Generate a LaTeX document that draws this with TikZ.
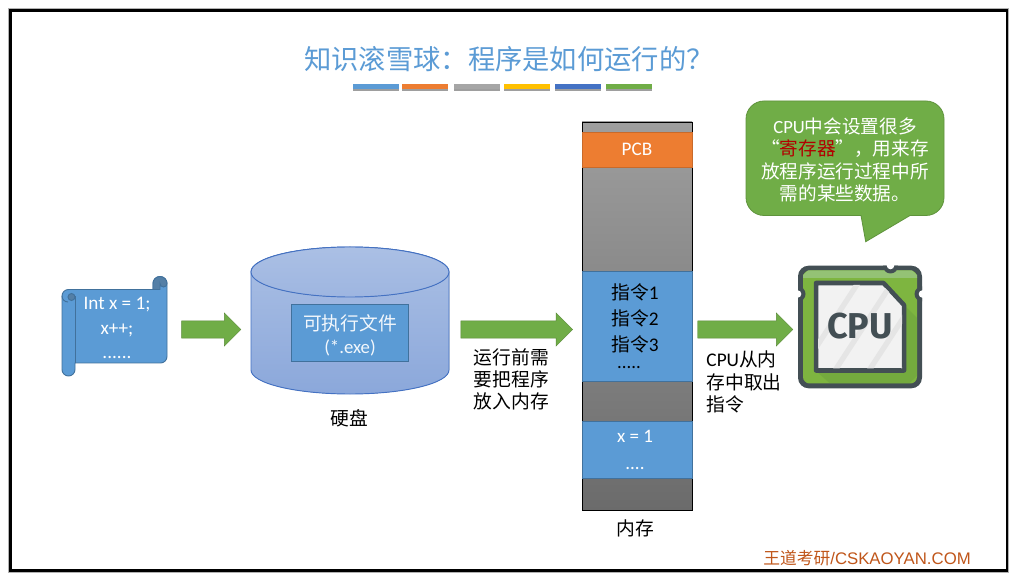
\documentclass[tikz,border=0pt]{standalone}
\usepackage{fontspec}
\setmainfont{Carlito}
\newfontfamily\cjk{Noto Sans CJK SC}
\newfontfamily\arial{Liberation Sans}
\newfontfamily\chipfont{Fira Sans}
\usetikzlibrary{shapes.arrows}
\definecolor{myblue}{HTML}{5B9BD5}
\definecolor{myedge}{HTML}{41719C}
\definecolor{myorange}{HTML}{ED7D31}
\definecolor{mygold}{HTML}{FFC000}
\definecolor{myindigo}{HTML}{4472C4}
\definecolor{mygreen}{HTML}{70AD47}
\definecolor{mychip}{HTML}{434F54}
\definecolor{mywater}{HTML}{C0561A}
\newcommand{\lat}[1]{{\fontsize{14.5}{16.6}\selectfont\rmfamily #1}}
\tikzset{
  body/.style={font=\fontsize{14.1}{16.6}\selectfont\cjk,inner sep=0pt},
  onblue/.style={body,text=white,align=center},
  cell/.style={fill=myblue,draw=myedge,line width=0.7pt},
  titlebar/.style={minimum width=34.8pt,minimum height=4.2pt,inner sep=0pt},
  blockarrow/.style={single arrow,fill=mygreen,draw=mygreen!80!black,line width=0.3pt,
    inner sep=0pt,single arrow head indent=0pt,single arrow head extend=6pt},
}

\begin{document}
\begin{tikzpicture}[x=0.7512pt,y=-0.7512pt]
  \def\Ml{582}
  \def\Mr{692}
  \def\Mc{637}
  \def\Sw{\rule{0pt}{12.6pt}}
  \useasboundingbox (0,0) rectangle (1016,578);
  \fill[white] (0,0) rectangle (1016,578);
  \draw[black!30,line width=2.6pt] (10,10) rectangle (1007.5,571);
  \draw[black,line width=1.6pt] (10.5,10.5) rectangle (1007,570.5);

%title:
  \node[font=\fontsize{20.5}{24}\selectfont\cjk,text=myblue,inner sep=0pt] (title) at (509,59) {知识滚雪球：程序是如何运行的？};
  \foreach \name/\xc/\col in {a/376/myblue,b/425/myorange,c/477/black!35,d/527/mygold,e/578/myindigo,f/629/mygreen}{
    \fill[black!38] (\xc-23,85.5) rectangle (\xc+23,91.5);
    \node[titlebar,fill=\col] (bar\name) at (\xc,86.6) {};
  }

%scroll:
  \fill[myblue,draw=myedge,line width=0.7pt] (62,296) arc (180:270:6.5) -- (153,289.5) -- (153,283.5) arc (180:360:7) -- (167,356.5) arc (0:90:6.5) -- (75,363) -- (75,369.5) arc (0:180:6.5) -- cycle;
  \fill[myedge!90,draw=myedge,line width=0.7pt] (153,289.5) -- (153,283.5) arc (180:360:7) arc (0:180:3.5) -- (160,289.5) -- cycle;
  \fill[myedge!90,draw=myedge,line width=0.7pt] (71.5,297) circle (3.5);
  \draw[myedge,line width=0.7pt] (62,296) arc (180:90:6);
  \draw[myedge,line width=0.7pt] (75,296) -- (75,363);
  \node[onblue,font=\fontsize{14.4}{18.2}\selectfont] (source) at (117,328) {Int x = 1;\\x++;\\......};

  \node[blockarrow,minimum height=44.5pt] (toDisk) at (207,329.5) {\Sw};

%disk:
  \fill[top color=myindigo!45,bottom color=myindigo!62,shading=axis,draw=myindigo,line width=0.7pt] (251,272) arc (180:360:99 and 25) -- (449,370) arc (0:180:99 and 24) -- cycle;
  \fill[top color=myindigo!45,bottom color=myindigo!52,draw=myindigo,line width=0.7pt] (251,272) arc (180:540:99 and 25);
  \node[cell,minimum width=88pt,minimum height=42.2pt,inner sep=0pt] (exe) at (350,333) {};
  \node[onblue,text=white!92!myblue,font=\fontsize{14.1}{17.2}\selectfont] (exeText) at (350,335) {{\cjk 可执行文件}\\(*.exe)};
  \node[body] (disk) at (349,418) {硬盘};

  \node[blockarrow,minimum height=84pt] (toMem) at (512.5,329.5) {\Sw};
  \node[body,align=left] (load) at (511.5,379) {运行前需\\要把程序\\放入内存};

%memory:
  \fill[top color=black!38,bottom color=black!58,shading=axis,draw=black,line width=0.7pt] (\Ml,122) rectangle (\Mr,510);
  \node[cell,draw=myorange!85!black,fill=myorange,minimum width=82.6pt,minimum height=26.3pt,inner sep=0pt,text=white,font=\fontsize{14.4}{16}\selectfont] (pcb) at (\Mc,149.5) {PCB};
  \node[cell,minimum width=82.6pt,minimum height=82.6pt,inner sep=0pt] (code) at (\Mc,326) {};
  \node[body] (op1) at (635,292) {指令\lat{1}};
  \node[body] (op2) at (635,318.5) {指令\lat{2}};
  \node[body] (op3) at (635,344.5) {指令\lat{3}};
  \node[inner sep=0pt,text height=2pt,text depth=0pt,font=\fontsize{14.1}{16}\selectfont] (opDots) at (629,367) {.....};
  \node[cell,minimum width=82.6pt,minimum height=42.8pt,inner sep=0pt] (data) at (\Mc,449.5) {};
  \node[onblue,font=\fontsize{14.3}{20.5}\selectfont] (dataText) at (635,450) {x = 1\\....};
  \node[body] (mem) at (635,528) {内存};

  \node[blockarrow,minimum height=71.5pt] (toCpu) at (741,329.5) {\Sw};
  \node[body,align=left] (fetch) at (744,382) {\lat{CPU}从内\\存中取出\\指令};

%speech bubble:
  \fill[mygreen,draw=mygreen!85!black,line width=0.6pt] (764,101) -- (926,101) arc (270:360:18) -- (944,197.5) arc (0:90:18) -- (910,215.5) -- (865.7,241.7) -- (861,215.5) -- (764,215.5) arc (90:180:18) -- (746,119) arc (180:270:18) -- cycle;
  \node[onblue,font=\fontsize{14}{16.7}\selectfont\cjk] (note) at (845,160) {{\rmfamily CPU}中会设置很多\\“{\color{red!70!black}寄存器}”，用来存\\放程序运行过程中所\\需的某些数据。};

%cpu icon:
  \fill[mychip,rounded corners=8pt] (798,265.7) rectangle (922,388.3);
  \fill[mygreen!90!yellow,rounded corners=5pt] (803,270.5) rectangle (917,383.5);
  \fill[mygreen!75!white] (808,270.5) -- (912,270.5) -- (917,275) -- (917,278) -- (803,278) -- (803,275) -- cycle;
  \fill[mygreen!85!black,opacity=0.3] (905,306) -- (917,318) -- (917,376) -- (909,383.5) -- (830,383.5) -- (816,371) -- cycle;
  \begin{scope}
    \clip[rounded corners=8pt] (798,265.7) rectangle (922,388.3);
    \fill[mychip] (890.5,266) circle (7.5);
    \fill[mychip] (798,294) circle (7.5);
    \fill[mychip] (922,294) circle (7.5);
  \end{scope}
  \fill[white] (890.5,265.5) circle (3.8);
  \fill[white] (797.5,294) circle (3.8);
  \fill[white] (922.5,294) circle (3.8);
  \fill[black!5,draw=mychip,line width=3.4pt,line join=round] (816,283) -- (883.5,283) -- (904,305) -- (904,370.5) -- (816,370.5) -- cycle;
  \begin{scope}
    \clip (818,285) -- (882.5,285) -- (902,306) -- (902,368.5) -- (818,368.5) -- cycle;
    \foreach \d in {0,34,...,170}
      \draw[black!10,line width=4pt] (800+\d,372) -- (860+\d,280);
  \end{scope}
  \node[text=mychip,inner sep=0pt,font=\fontsize{27}{30}\selectfont\chipfont\bfseries] (cpu) at (860,326) {CPU};

  \node[inner sep=0pt,text=mywater,font=\fontsize{12.6}{15}\selectfont\arial] (mark) at (867,558) {{\cjk 王道考研}/CSKAOYAN.COM};
\end{tikzpicture}
\end{document}
